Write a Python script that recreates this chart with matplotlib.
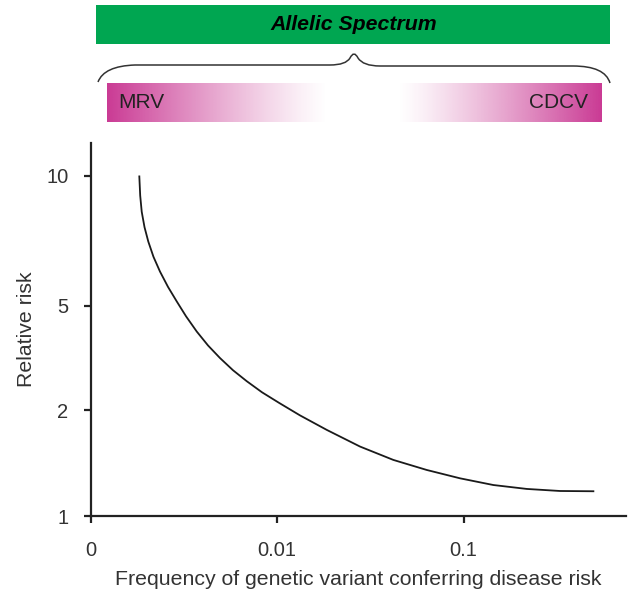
import numpy as np
import matplotlib.pyplot as plt
from matplotlib.patches import Rectangle, PathPatch
from matplotlib.path import Path
from matplotlib.scale import FuncScale

plt.rcParams['font.family'] = ['Liberation Sans', 'DejaVu Sans']

# data
freq = [0.001827, 0.001847, 0.001882, 0.001948, 0.002041, 0.002176, 0.002358,
        0.002603, 0.002898, 0.003252, 0.003711, 0.004266, 0.004948, 0.005808,
        0.00688, 0.00831, 0.010288, 0.013283, 0.018474, 0.027866, 0.04203,
        0.06348, 0.095771, 0.144473, 0.21824, 0.32918, 0.49669]
rel_risk = [9.96, 8.99, 8.25, 7.60, 7.04, 6.49, 6.00,
            5.53, 5.12, 4.56, 3.99, 3.53, 3.16, 2.84,
            2.58, 2.34, 2.13, 1.933, 1.758, 1.576, 1.444,
            1.352, 1.280, 1.225, 1.194, 1.178, 1.176]

x_ticks = [0.001, 0.01, 0.1]
x_tick_labels = ['0', '0.01', '0.1']
y_ticks = [1, 2, 5, 10]
y_tick_labels = ['1', '2', '5', '10']

# the y axis in the figure is not a plain log axis: tick spacing is uneven
lv_knots = np.log10([0.1, 1, 2, 5, 10, 100])
pos_knots = np.array([-351.0, 0.0, 105.7, 210.0, 340.0, 771.9])


def fwd(v):
    v = np.clip(np.asarray(v, dtype=float), 1e-9, None)
    return np.interp(np.log10(v), lv_knots, pos_knots)


def inv(p):
    return 10 ** np.interp(np.asarray(p, dtype=float), pos_knots, lv_knots)


fig = plt.figure(figsize=(6.32, 5.94), dpi=100)
W, H = 632, 594
ax = fig.add_axes([90.5 / W, (H - 516) / H, (626 - 90.5) / W, (516 - 143) / H])

ax.plot(freq, rel_risk, color='#1a1a1a', lw=1.3, solid_joinstyle='round')
ax.set_xscale('log')
ax.set_yscale(FuncScale(ax.yaxis, (fwd, inv)))
ax.set_xlim(0.001, 0.743)
ax.set_ylim(1, 11.9)

ax.set_xticks(x_ticks)
ax.set_xticklabels(x_tick_labels)
ax.set_yticks(y_ticks)
ax.set_yticklabels(y_tick_labels)
ax.xaxis.set_minor_locator(plt.NullLocator())
ax.yaxis.set_minor_locator(plt.NullLocator())

for s in ['top', 'right']:
    ax.spines[s].set_visible(False)
for s in ['left', 'bottom']:
    ax.spines[s].set_linewidth(1.6)
    ax.spines[s].set_color('#222222')
ax.tick_params(direction='out', length=5, width=1.6, color='#222222',
               labelsize=14.5, labelcolor='#333333', pad=11)
ax.tick_params(axis='x', pad=13)

ax.set_xlabel('Frequency of genetic variant conferring disease risk',
              fontsize=15.3, color='#333333', labelpad=7)
ax.set_ylabel('Relative risk', fontsize=15.3, color='#333333', labelpad=7)

# header: allelic spectrum bar, brace and gradient boxes (pixel coords)
hx = fig.add_axes([0, 0, 1, 1], zorder=-1)
hx.axis('off')

hx.add_patch(Rectangle((96, 5), 514, 39, color='#00a651', lw=0))
hx.text(354, 25, 'Allelic Spectrum', ha='center', va='center',
        fontsize=15.3, fontweight='bold', fontstyle='italic', color='black')

verts = [(98, 82), (104, 66), (135, 65), (140, 65),
         (330, 65), (346, 65), (350, 58), (354, 50),
         (358, 58), (363, 66), (380, 66),
         (573, 66), (605, 66), (610, 83)]
codes = [Path.MOVETO, Path.CURVE3, Path.CURVE3, Path.LINETO,
         Path.LINETO, Path.CURVE3, Path.CURVE3, Path.CURVE3,
         Path.CURVE3, Path.CURVE3, Path.CURVE3,
         Path.LINETO, Path.CURVE3, Path.CURVE3]
hx.add_patch(PathPatch(Path(verts, codes), fill=False, lw=1.1, ec='#333333'))

magenta = np.array([202, 58, 148]) / 255.0


def gradient_box(x0, x1, reverse):
    n = 256
    t = np.linspace(0, 1, n)
    alpha = np.clip(1 - t, 0, 1) ** 1.2
    if reverse:
        alpha = alpha[::-1]
    img = np.zeros((1, n, 4))
    img[0, :, :3] = magenta
    img[0, :, 3] = alpha
    hx.imshow(img, extent=[x0, x1, 122, 83], aspect='auto',
              interpolation='bilinear')


gradient_box(107, 328, False)
gradient_box(398, 602, True)
hx.set_xlim(0, W)
hx.set_ylim(H, 0)

hx.text(118, 103, 'MRV', ha='left', va='center', fontsize=15, color='#222222')
hx.text(588, 103, 'CDCV', ha='right', va='center', fontsize=15, color='#222222')

fig.savefig('out.png', dpi=100)
